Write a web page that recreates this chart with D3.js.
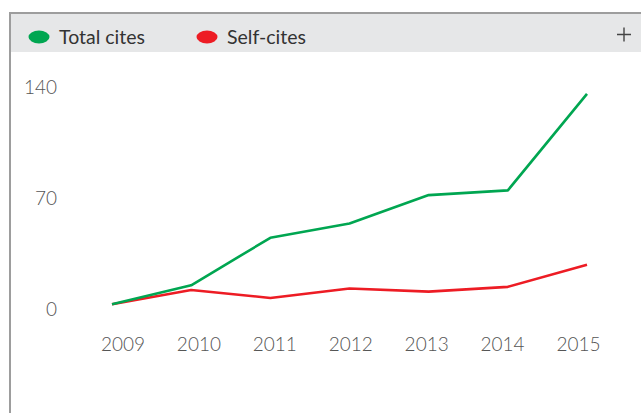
<!DOCTYPE html>
<html>
<head>
<meta charset="utf-8">
<script src="https://cdn.jsdelivr.net/npm/d3@7/dist/d3.min.js"></script>
<style>
  body { margin: 0; background: #fff; }
  svg { display: block; font-family: Lato, "Open Sans", sans-serif; }
</style>
</head>
<body>
<svg width="641" height="413"></svg>
<script>
// chart data
const years = [2009, 2010, 2011, 2012, 2013, 2014, 2015];
const totalCites = [3, 15, 45, 54, 72, 75, 136];
const selfCites = [3, 12, 7, 13, 11, 14, 28];
const yTicks = [0, 70, 140];

const svg = d3.select("svg");

// frame + header band
svg.append("rect").attr("x", 11).attr("y", 14).attr("width", 630).attr("height", 38).attr("fill", "#e6e7e8");
svg.append("line").attr("x1", 9).attr("x2", 641).attr("y1", 13).attr("y2", 13)
  .attr("stroke", "#9d9d9d").attr("stroke-width", 2);
svg.append("line").attr("x1", 10).attr("x2", 10).attr("y1", 12).attr("y2", 413)
  .attr("stroke", "#9d9d9d").attr("stroke-width", 2);

// legend
const legend = [
  { name: "Total cites", color: "#00a651", x: 39 },
  { name: "Self-cites", color: "#ed1c24", x: 207 },
];
const lg = svg.selectAll("g.legend").data(legend).enter().append("g").attr("class", "legend");
lg.append("ellipse").attr("cx", (d) => d.x).attr("cy", 37).attr("rx", 10.5).attr("ry", 6.5)
  .attr("fill", (d) => d.color);
lg.append("text").attr("x", (d) => d.x + 20).attr("y", 44)
  .attr("font-size", 19.5).attr("fill", "#333").text((d) => d.name);

// plus icon
svg.append("path").attr("d", "M617,34.5H631M624,27.5V41.5")
  .attr("stroke", "#444").attr("stroke-width", 1.4).attr("fill", "none");

// scales
const x = d3.scaleLinear().domain([2009, 2015]).range([112, 587]);
const xLab = d3.scalePoint().domain(years).range([122.5, 578]);
const y = d3.scaleLinear().domain([0, 140]).range([309, 87.5]);

// y axis labels
const yAxis = svg.append("g").attr("transform", "translate(57,0)")
  .call(d3.axisLeft(y).tickValues(yTicks).tickSize(0).tickPadding(0));
yAxis.select(".domain").remove();
yAxis.selectAll("text").attr("font-size", 19).attr("fill", "#555")
  .attr("font-family", "Lato, sans-serif").attr("font-weight", 300);

// x axis labels
const xAxis = svg.append("g").attr("transform", "translate(0,345)")
  .call(d3.axisBottom(xLab).tickSize(0).tickPadding(0).tickFormat(d3.format("d")));
xAxis.select(".domain").remove();
xAxis.selectAll("text").attr("font-size", 19).attr("fill", "#555")
  .attr("font-family", "Lato, sans-serif").attr("font-weight", 300)
  .attr("dy", "0.32em");

// lines
const series = [
  { values: selfCites, color: "#ed1c24" },
  { values: totalCites, color: "#00a651" },
];
const line = d3.line().x((d, i) => x(years[i])).y((d) => y(d));
svg.selectAll("path.series").data(series).enter().append("path")
  .attr("class", "series")
  .attr("d", (d) => line(d.values))
  .attr("fill", "none")
  .attr("stroke", (d) => d.color)
  .attr("stroke-width", 2.6)
  .attr("stroke-linejoin", "round");
</script>
</body>
</html>
